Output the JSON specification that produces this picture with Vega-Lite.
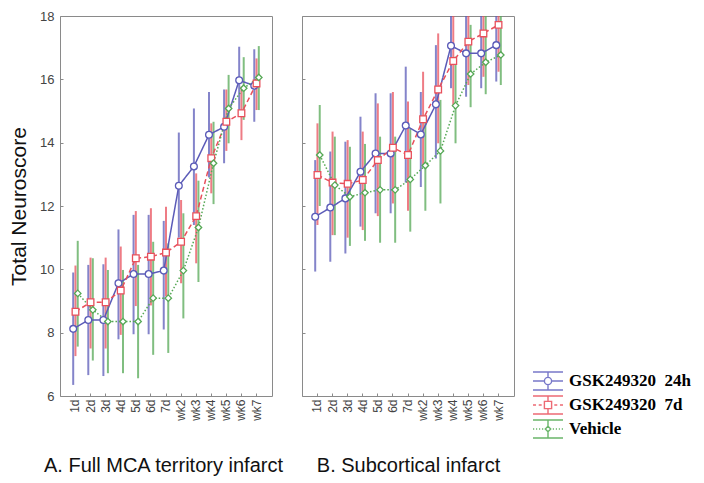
{
  "$schema": "https://vega.github.io/schema/vega-lite/v6.json",
  "padding": {"left": 8, "top": 9, "right": 5, "bottom": 5},
  "background": "white",
  "datasets": {
    "rows": [
      {"panel": "A", "day": "1d", "group": "GSK249320 24h", "mean": 8.12, "lo": 6.35, "hi": 9.9},
      {"panel": "A", "day": "2d", "group": "GSK249320 24h", "mean": 8.4, "lo": 6.66, "hi": 10.14},
      {"panel": "A", "day": "3d", "group": "GSK249320 24h", "mean": 8.4, "lo": 6.63, "hi": 10.16},
      {"panel": "A", "day": "4d", "group": "GSK249320 24h", "mean": 9.56, "lo": 7.79, "hi": 11.26},
      {"panel": "A", "day": "5d", "group": "GSK249320 24h", "mean": 9.85, "lo": 7.95, "hi": 11.72},
      {"panel": "A", "day": "6d", "group": "GSK249320 24h", "mean": 9.85, "lo": 7.95, "hi": 11.72},
      {"panel": "A", "day": "7d", "group": "GSK249320 24h", "mean": 9.96, "lo": 8.1, "hi": 11.53},
      {"panel": "A", "day": "wk2", "group": "GSK249320 24h", "mean": 12.64, "lo": 11.0, "hi": 14.32},
      {"panel": "A", "day": "wk3", "group": "GSK249320 24h", "mean": 13.25, "lo": 11.4, "hi": 15.08},
      {"panel": "A", "day": "wk4", "group": "GSK249320 24h", "mean": 14.25, "lo": 12.9, "hi": 15.6},
      {"panel": "A", "day": "wk5", "group": "GSK249320 24h", "mean": 14.5, "lo": 13.35, "hi": 15.68},
      {"panel": "A", "day": "wk6", "group": "GSK249320 24h", "mean": 15.97, "lo": 14.9, "hi": 17.03},
      {"panel": "A", "day": "wk7", "group": "GSK249320 24h", "mean": 15.8, "lo": 14.66, "hi": 16.95},
      {"panel": "A", "day": "1d", "group": "GSK249320 7d", "mean": 8.66, "lo": 7.26, "hi": 10.12},
      {"panel": "A", "day": "2d", "group": "GSK249320 7d", "mean": 8.96, "lo": 7.5, "hi": 10.37},
      {"panel": "A", "day": "3d", "group": "GSK249320 7d", "mean": 8.96, "lo": 7.5, "hi": 10.37},
      {"panel": "A", "day": "4d", "group": "GSK249320 7d", "mean": 9.33, "lo": 7.93, "hi": 10.72},
      {"panel": "A", "day": "5d", "group": "GSK249320 7d", "mean": 10.35, "lo": 8.84, "hi": 11.84},
      {"panel": "A", "day": "6d", "group": "GSK249320 7d", "mean": 10.4, "lo": 8.86, "hi": 11.93},
      {"panel": "A", "day": "7d", "group": "GSK249320 7d", "mean": 10.53, "lo": 9.14, "hi": 11.98},
      {"panel": "A", "day": "wk2", "group": "GSK249320 7d", "mean": 10.87, "lo": 9.56, "hi": 12.19},
      {"panel": "A", "day": "wk3", "group": "GSK249320 7d", "mean": 11.68, "lo": 10.19, "hi": 13.03},
      {"panel": "A", "day": "wk4", "group": "GSK249320 7d", "mean": 13.51, "lo": 12.4, "hi": 14.61},
      {"panel": "A", "day": "wk5", "group": "GSK249320 7d", "mean": 14.66, "lo": 13.74, "hi": 15.68},
      {"panel": "A", "day": "wk6", "group": "GSK249320 7d", "mean": 14.93, "lo": 14.08, "hi": 15.77},
      {"panel": "A", "day": "wk7", "group": "GSK249320 7d", "mean": 15.87, "lo": 15.03, "hi": 16.66},
      {"panel": "A", "day": "1d", "group": "Vehicle", "mean": 9.24, "lo": 7.56, "hi": 10.9},
      {"panel": "A", "day": "2d", "group": "Vehicle", "mean": 8.72, "lo": 7.12, "hi": 10.35},
      {"panel": "A", "day": "3d", "group": "Vehicle", "mean": 8.35, "lo": 6.72, "hi": 9.98},
      {"panel": "A", "day": "4d", "group": "Vehicle", "mean": 8.35, "lo": 6.72, "hi": 9.98},
      {"panel": "A", "day": "5d", "group": "Vehicle", "mean": 8.35, "lo": 6.56, "hi": 10.14},
      {"panel": "A", "day": "6d", "group": "Vehicle", "mean": 9.09, "lo": 7.3, "hi": 10.87},
      {"panel": "A", "day": "7d", "group": "Vehicle", "mean": 9.09, "lo": 7.36, "hi": 10.82},
      {"panel": "A", "day": "wk2", "group": "Vehicle", "mean": 9.96, "lo": 8.45, "hi": 11.77},
      {"panel": "A", "day": "wk3", "group": "Vehicle", "mean": 11.32, "lo": 9.6, "hi": 12.8},
      {"panel": "A", "day": "wk4", "group": "Vehicle", "mean": 13.35, "lo": 12.06, "hi": 14.66},
      {"panel": "A", "day": "wk5", "group": "Vehicle", "mean": 15.08, "lo": 13.98, "hi": 16.14},
      {"panel": "A", "day": "wk6", "group": "Vehicle", "mean": 15.72, "lo": 14.72, "hi": 16.7},
      {"panel": "A", "day": "wk7", "group": "Vehicle", "mean": 16.06, "lo": 15.03, "hi": 17.05},
      {"panel": "B", "day": "1d", "group": "GSK249320 24h", "mean": 11.66, "lo": 9.93, "hi": 13.45},
      {"panel": "B", "day": "2d", "group": "GSK249320 24h", "mean": 11.95, "lo": 10.24, "hi": 13.72},
      {"panel": "B", "day": "3d", "group": "GSK249320 24h", "mean": 12.24, "lo": 10.5, "hi": 14.03},
      {"panel": "B", "day": "4d", "group": "GSK249320 24h", "mean": 13.08, "lo": 11.35, "hi": 14.82},
      {"panel": "B", "day": "5d", "group": "GSK249320 24h", "mean": 13.66, "lo": 11.77, "hi": 15.56},
      {"panel": "B", "day": "6d", "group": "GSK249320 24h", "mean": 13.66, "lo": 11.77, "hi": 15.56},
      {"panel": "B", "day": "7d", "group": "GSK249320 24h", "mean": 14.54, "lo": 12.74, "hi": 16.4},
      {"panel": "B", "day": "wk2", "group": "GSK249320 24h", "mean": 14.26, "lo": 12.6, "hi": 15.6},
      {"panel": "B", "day": "wk3", "group": "GSK249320 24h", "mean": 15.21, "lo": 13.5, "hi": 17.08},
      {"panel": "B", "day": "wk4", "group": "GSK249320 24h", "mean": 17.06, "lo": 15.72, "hi": 18.4},
      {"panel": "B", "day": "wk5", "group": "GSK249320 24h", "mean": 16.82, "lo": 15.45, "hi": 18.2},
      {"panel": "B", "day": "wk6", "group": "GSK249320 24h", "mean": 16.82, "lo": 15.72, "hi": 18.2},
      {"panel": "B", "day": "wk7", "group": "GSK249320 24h", "mean": 17.08, "lo": 15.93, "hi": 18.3},
      {"panel": "B", "day": "1d", "group": "GSK249320 7d", "mean": 12.98, "lo": 11.4, "hi": 14.61},
      {"panel": "B", "day": "2d", "group": "GSK249320 7d", "mean": 12.74, "lo": 11.08, "hi": 14.35},
      {"panel": "B", "day": "3d", "group": "GSK249320 7d", "mean": 12.7, "lo": 11.0, "hi": 14.08},
      {"panel": "B", "day": "4d", "group": "GSK249320 7d", "mean": 12.82, "lo": 11.24, "hi": 14.35},
      {"panel": "B", "day": "5d", "group": "GSK249320 7d", "mean": 13.45, "lo": 11.68, "hi": 15.24},
      {"panel": "B", "day": "6d", "group": "GSK249320 7d", "mean": 13.84, "lo": 12.08, "hi": 15.6},
      {"panel": "B", "day": "7d", "group": "GSK249320 7d", "mean": 13.61, "lo": 11.85, "hi": 15.3},
      {"panel": "B", "day": "wk2", "group": "GSK249320 7d", "mean": 14.74, "lo": 13.24, "hi": 16.24},
      {"panel": "B", "day": "wk3", "group": "GSK249320 7d", "mean": 15.68, "lo": 13.98, "hi": 17.45},
      {"panel": "B", "day": "wk4", "group": "GSK249320 7d", "mean": 16.58, "lo": 15.14, "hi": 18.0},
      {"panel": "B", "day": "wk5", "group": "GSK249320 7d", "mean": 17.19, "lo": 15.82, "hi": 18.5},
      {"panel": "B", "day": "wk6", "group": "GSK249320 7d", "mean": 17.45, "lo": 16.08, "hi": 18.8},
      {"panel": "B", "day": "wk7", "group": "GSK249320 7d", "mean": 17.72, "lo": 16.24, "hi": 19.2},
      {"panel": "B", "day": "1d", "group": "Vehicle", "mean": 13.61, "lo": 12.0, "hi": 15.19},
      {"panel": "B", "day": "2d", "group": "Vehicle", "mean": 12.66, "lo": 11.08, "hi": 14.19},
      {"panel": "B", "day": "3d", "group": "Vehicle", "mean": 12.29, "lo": 10.74, "hi": 13.87},
      {"panel": "B", "day": "4d", "group": "Vehicle", "mean": 12.42, "lo": 10.9, "hi": 13.96},
      {"panel": "B", "day": "5d", "group": "Vehicle", "mean": 12.51, "lo": 10.84, "hi": 14.19},
      {"panel": "B", "day": "6d", "group": "Vehicle", "mean": 12.51, "lo": 10.84, "hi": 14.19},
      {"panel": "B", "day": "7d", "group": "Vehicle", "mean": 12.84, "lo": 11.19, "hi": 14.45},
      {"panel": "B", "day": "wk2", "group": "Vehicle", "mean": 13.28, "lo": 11.85, "hi": 14.87},
      {"panel": "B", "day": "wk3", "group": "Vehicle", "mean": 13.74, "lo": 12.08, "hi": 15.35},
      {"panel": "B", "day": "wk4", "group": "Vehicle", "mean": 15.17, "lo": 13.98, "hi": 16.72},
      {"panel": "B", "day": "wk5", "group": "Vehicle", "mean": 16.17, "lo": 15.12, "hi": 17.72},
      {"panel": "B", "day": "wk6", "group": "Vehicle", "mean": 16.54, "lo": 15.53, "hi": 18.08},
      {"panel": "B", "day": "wk7", "group": "Vehicle", "mean": 16.77, "lo": 15.82, "hi": 18.35}
    ]
  },
  "config": {
    "font": "Liberation Sans",
    "view": {"stroke": "#8a8a8a", "strokeWidth": 1},
    "axis": {"grid": false, "domain": false, "labelColor": "#444444", "tickColor": "#8a8a8a", "labelFont": "Liberation Sans", "titleFont": "Liberation Sans", "titleFontWeight": "normal", "titleColor": "#111111"}
  },
  "spacing": 17,
  "resolve": {"scale": {"color": "shared", "shape": "independent", "strokeDash": "shared", "size": "shared"}},
  "hconcat": [
    {
      "width": 212,
      "height": 380,
      "data": {"name": "rows"},
      "transform": [{"filter": "datum.panel === 'A'"}],
      "encoding": {
        "x": {"field": "day", "type": "nominal", "sort": ["1d","2d","3d","4d","5d","6d","7d","wk2","wk3","wk4","wk5","wk6","wk7"], "scale": {"paddingInner": 0.55, "paddingOuter": 0.8}, "axis": {"title": "A. Full MCA territory infarct", "labelAngle": -90, "labelFontSize": 12, "labelPadding": 6, "tickSize": -3, "titleFontSize": 20, "titlePadding": 35, "titleX": 103}},
        "xOffset": {"field": "group", "type": "nominal", "scale": {"domain": ["GSK249320 24h", "GSK249320 7d", "Vehicle"]}},
        "color": {"field": "group", "type": "nominal", "scale": {"domain": ["GSK249320 24h", "GSK249320 7d", "Vehicle"], "range": ["#5b5bb8", "#e8505c", "#55a855"]}, "legend": null}
      },
      "layer": [
        {"mark": {"type": "rule", "strokeWidth": 2, "opacity": 0.75, "clip": true},
         "encoding": {"y": {"field": "lo", "type": "quantitative", "scale": {"domain": [6, 18], "nice": false}, "axis": {"values": [6,8,10,12,14,16,18], "title": "Total Neuroscore", "titleFontSize": 21, "titlePadding": 10, "labelFontSize": 13, "tickSize": -3, "labelPadding": 9}}, "y2": {"field": "hi"}}},
        {"mark": {"type": "line", "strokeWidth": 1.5, "clip": true},
         "encoding": {"y": {"field": "mean", "type": "quantitative", "scale": {"domain": [6, 18], "nice": false}, "axis": {"values": [6,8,10,12,14,16,18], "title": "Total Neuroscore", "titleFontSize": 21, "titlePadding": 10, "labelFontSize": 13, "tickSize": -3, "labelPadding": 9}},
           "strokeDash": {"field": "group", "type": "nominal", "scale": {"domain": ["GSK249320 24h", "GSK249320 7d", "Vehicle"], "range": [[1, 0], [5, 3], [1.5, 2]]}, "legend": null}}},
        {"mark": {"type": "point", "filled": false, "fill": "white", "fillOpacity": 1, "strokeWidth": 1.3, "opacity": 1, "clip": true},
         "encoding": {"y": {"field": "mean", "type": "quantitative", "scale": {"domain": [6, 18], "nice": false}, "axis": {"values": [6,8,10,12,14,16,18], "title": "Total Neuroscore", "titleFontSize": 21, "titlePadding": 10, "labelFontSize": 13, "tickSize": -3, "labelPadding": 9}},
           "shape": {"field": "group", "type": "nominal", "scale": {"domain": ["GSK249320 24h", "GSK249320 7d", "Vehicle"], "range": ["circle", "square", "diamond"]}, "legend": null},
           "size": {"field": "group", "type": "nominal", "scale": {"domain": ["GSK249320 24h", "GSK249320 7d", "Vehicle"], "range": [46, 42, 26]}, "legend": null}}}
      ]
    },
    {
      "width": 212,
      "height": 380,
      "data": {"name": "rows"},
      "transform": [{"filter": "datum.panel === 'B'"}],
      "resolve": {"scale": {"shape": "independent", "stroke": "independent"}},
      "encoding": {
        "x": {"field": "day", "type": "nominal", "sort": ["1d","2d","3d","4d","5d","6d","7d","wk2","wk3","wk4","wk5","wk6","wk7"], "scale": {"paddingInner": 0.55, "paddingOuter": 0.8}, "axis": {"title": "B. Subcortical infarct", "labelAngle": -90, "labelFontSize": 12, "labelPadding": 6, "tickSize": -3, "titleFontSize": 20, "titlePadding": 35}},
        "xOffset": {"field": "group", "type": "nominal", "scale": {"domain": ["GSK249320 24h", "GSK249320 7d", "Vehicle"]}},
        "color": {"field": "group", "type": "nominal", "scale": {"domain": ["GSK249320 24h", "GSK249320 7d", "Vehicle"], "range": ["#5b5bb8", "#e8505c", "#55a855"]}, "legend": null}
      },
      "layer": [
        {"mark": {"type": "rule", "strokeWidth": 2, "opacity": 0.75, "clip": true},
         "encoding": {"y": {"field": "lo", "type": "quantitative", "scale": {"domain": [6, 18], "nice": false}, "axis": {"values": [6,8,10,12,14,16,18], "title": null, "labels": false, "tickSize": -3}}, "y2": {"field": "hi"}}},
        {"mark": {"type": "line", "strokeWidth": 1.5, "clip": true},
         "encoding": {"y": {"field": "mean", "type": "quantitative", "scale": {"domain": [6, 18], "nice": false}, "axis": {"values": [6,8,10,12,14,16,18], "title": null, "labels": false, "tickSize": -3}},
           "strokeDash": {"field": "group", "type": "nominal", "scale": {"domain": ["GSK249320 24h", "GSK249320 7d", "Vehicle"], "range": [[1, 0], [5, 3], [1.5, 2]]}, "legend": null}}},
        {"mark": {"type": "point", "filled": false, "fill": "white", "fillOpacity": 1, "strokeWidth": 1.3, "opacity": 1, "clip": true},
         "encoding": {"y": {"field": "mean", "type": "quantitative", "scale": {"domain": [6, 18], "nice": false}, "axis": {"values": [6,8,10,12,14,16,18], "title": null, "labels": false, "tickSize": -3}},
           "shape": {"field": "group", "type": "nominal", "scale": {"domain": ["GSK249320 24h", "GSK249320 7d", "Vehicle"], "range": ["circle", "square", "diamond"]}, "legend": null},
           "size": {"field": "group", "type": "nominal", "scale": {"domain": ["GSK249320 24h", "GSK249320 7d", "Vehicle"], "range": [46, 42, 26]}, "legend": null}}},
        {"mark": {"type": "point", "filled": true, "fill": "white", "strokeWidth": 1.4, "opacity": 0, "clip": true},
         "encoding": {"y": {"field": "mean", "type": "quantitative", "scale": {"domain": [6, 18], "nice": false}, "axis": {"values": [6,8,10,12,14,16,18], "title": null, "labels": false, "tickSize": -3}},
           "shape": {"field": "group", "type": "nominal",
             "scale": {"domain": ["GSK249320 24h", "GSK249320 7d", "Vehicle"], "range": [
               "M-1.667,-1H1.667M-1.667,1H1.667M0,-1V-0.4M0,0.4V1M-1.667,0H-0.4M0.4,0H1.667M0.4,0A0.4,0.4,0,1,1,-0.4,0A0.4,0.4,0,1,1,0.4,0Z",
               "M-1.667,-1H1.667M-1.667,1H1.667M0,-1V-0.4M0,0.4V1M-1.667,0H-1.33M-1.03,0H-0.7M0.7,0H1.03M1.33,0H1.667M-0.4,-0.4H0.4V0.4H-0.4Z",
               "M-1.667,-1H1.667M-1.667,1H1.667M0,-1V-0.3M0,0.3V1M-1.667,0H-1.53M-1.33,0H-1.2M-1,0H-0.87M-0.67,0H-0.53M0.53,0H0.67M0.87,0H1M1.2,0H1.33M1.53,0H1.667M0,-0.3L0.3,0L0,0.3L-0.3,0Z"]},
             "legend": {"orient": "none", "legendX": 236, "legendY": 355, "title": null, "labelFont": "Liberation Serif", "labelFontWeight": "bold", "labelFontSize": 17, "labelColor": "#000000", "symbolSize": 324, "symbolOpacity": 0.9, "symbolStrokeWidth": 1.4, "symbolFillColor": "white", "rowPadding": 0, "labelOffset": 11, "labelExpr": "replace(datum.label, ' ', '\u00a0\u00a0')"}},
           "stroke": {"field": "group", "type": "nominal",
             "scale": {"domain": ["GSK249320 24h", "GSK249320 7d", "Vehicle"], "range": ["#6a6ac4", "#ec5a66", "#5aae5a"]},
             "legend": {"orient": "none", "legendX": 236, "legendY": 355, "title": null, "labelFont": "Liberation Serif", "labelFontWeight": "bold", "labelFontSize": 17, "labelColor": "#000000", "symbolSize": 324, "symbolOpacity": 0.9, "symbolStrokeWidth": 1.4, "symbolFillColor": "white", "rowPadding": 0, "labelOffset": 11, "labelExpr": "replace(datum.label, ' ', '\u00a0\u00a0')"}}}}
      ]
    }
  ]
}
